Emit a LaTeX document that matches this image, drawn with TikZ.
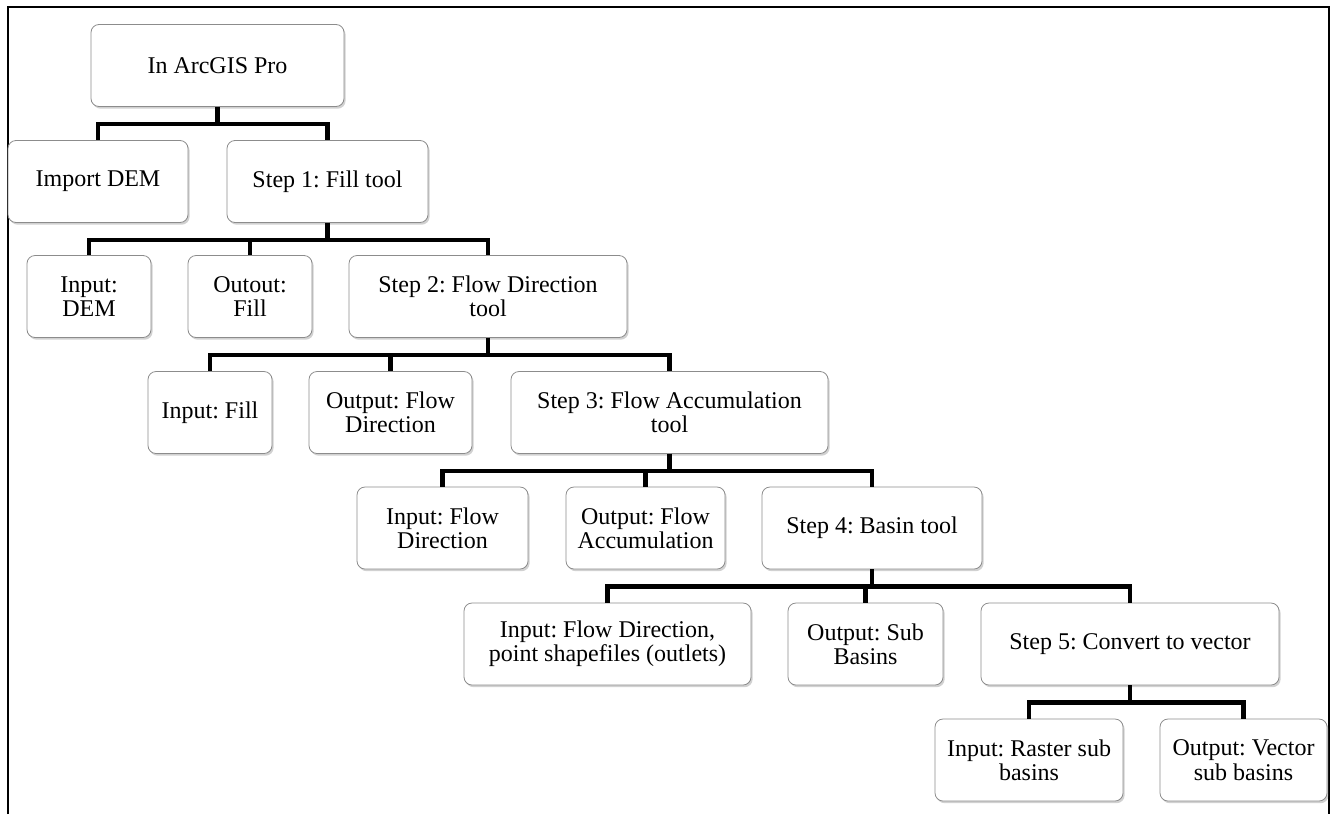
\documentclass[tikz,border=0pt]{standalone}
\usepackage{fontspec}
\setmainfont{Liberation Serif}
\usepackage{tikz}
\usetikzlibrary{shadows,positioning}
\tikzset{
    stage/.style={rectangle, draw=black!45, rounded corners=4pt, fill=white, align=center, font=\fontsize{12}{12.2}\selectfont\frenchspacing, minimum height=41pt, inner sep=2pt, drop shadow={shadow xshift=0.8pt, shadow yshift=-1.1pt, opacity=0.3, fill=black!60}},
    link/.style={line width=2.4pt, draw=black},
    frame/.style={line width=1.4pt},
}

\begin{document}
\begin{tikzpicture}[x=0.5pt, y=-0.5pt]
    \useasboundingbox (0,0) rectangle (1336,814);
    % outer frame, open at the bottom
    \draw[frame] (8,814) -- (8,7) -- (1329,7) -- (1329,814);

    \node[stage, minimum width=126.5pt] (root) at (217.5,65.5) {In ArcGIS Pro};
    \node[stage, minimum width=90pt] (dem) at (98,181.5) {Import DEM};
    \node[stage, minimum width=100.5pt] (s1) at (327.5,181.5) {Step 1: Fill tool};
    \node[stage, minimum width=62pt] (indem) at (89,296.5) {Input:\\DEM};
    \node[stage, minimum width=62pt] (outfill) at (250,296.5) {Outout:\\Fill};
    \node[stage, minimum width=139pt] (s2) at (488,296.5) {Step 2: Flow Direction\\tool};
    \node[stage, minimum width=62pt] (infill) at (210,412.5) {Input: Fill};
    \node[stage, minimum width=81.5pt] (outfd) at (390.5,412.5) {Output: Flow\\Direction};
    \node[stage, minimum width=158.5pt] (s3) at (669.5,412.5) {Step 3: Flow Accumulation\\tool};
    \node[stage, minimum width=85.5pt] (infd) at (442.5,528) {Input: Flow\\Direction};
    \node[stage, minimum width=79.5pt] (outfa) at (645.5,528) {Output: Flow\\Accumulation};
    \node[stage, minimum width=110pt] (s4) at (872,528) {Step 4: Basin tool};
    \node[stage, minimum width=143.5pt] (inpts) at (607.5,644) {Input: Flow Direction,\\point shapefiles (outlets)};
    \node[stage, minimum width=77.5pt] (outsb) at (865.5,644) {Output: Sub\\Basins};
    \node[stage, minimum width=149pt] (s5) at (1130,644) {Step 5: Convert to vector};
    \node[stage, minimum width=94pt] (inras) at (1029,760) {Input: Raster sub\\basins};
    \node[stage, minimum width=83.5pt] (outvec) at (1243.5,760) {Output: Vector\\sub basins};

    % elbow links from each step to its children
    \foreach \p/\c in {root/dem, root/s1, s1/indem, s1/outfill, s1/s2,
                       s2/infill, s2/outfd, s2/s3, s3/infd, s3/outfa, s3/s4,
                       s4/inpts, s4/outsb, s4/s5, s5/inras, s5/outvec}
        \draw[link] (\p.south) -- ++(0,17) -| (\c.north);
\end{tikzpicture}
\end{document}
